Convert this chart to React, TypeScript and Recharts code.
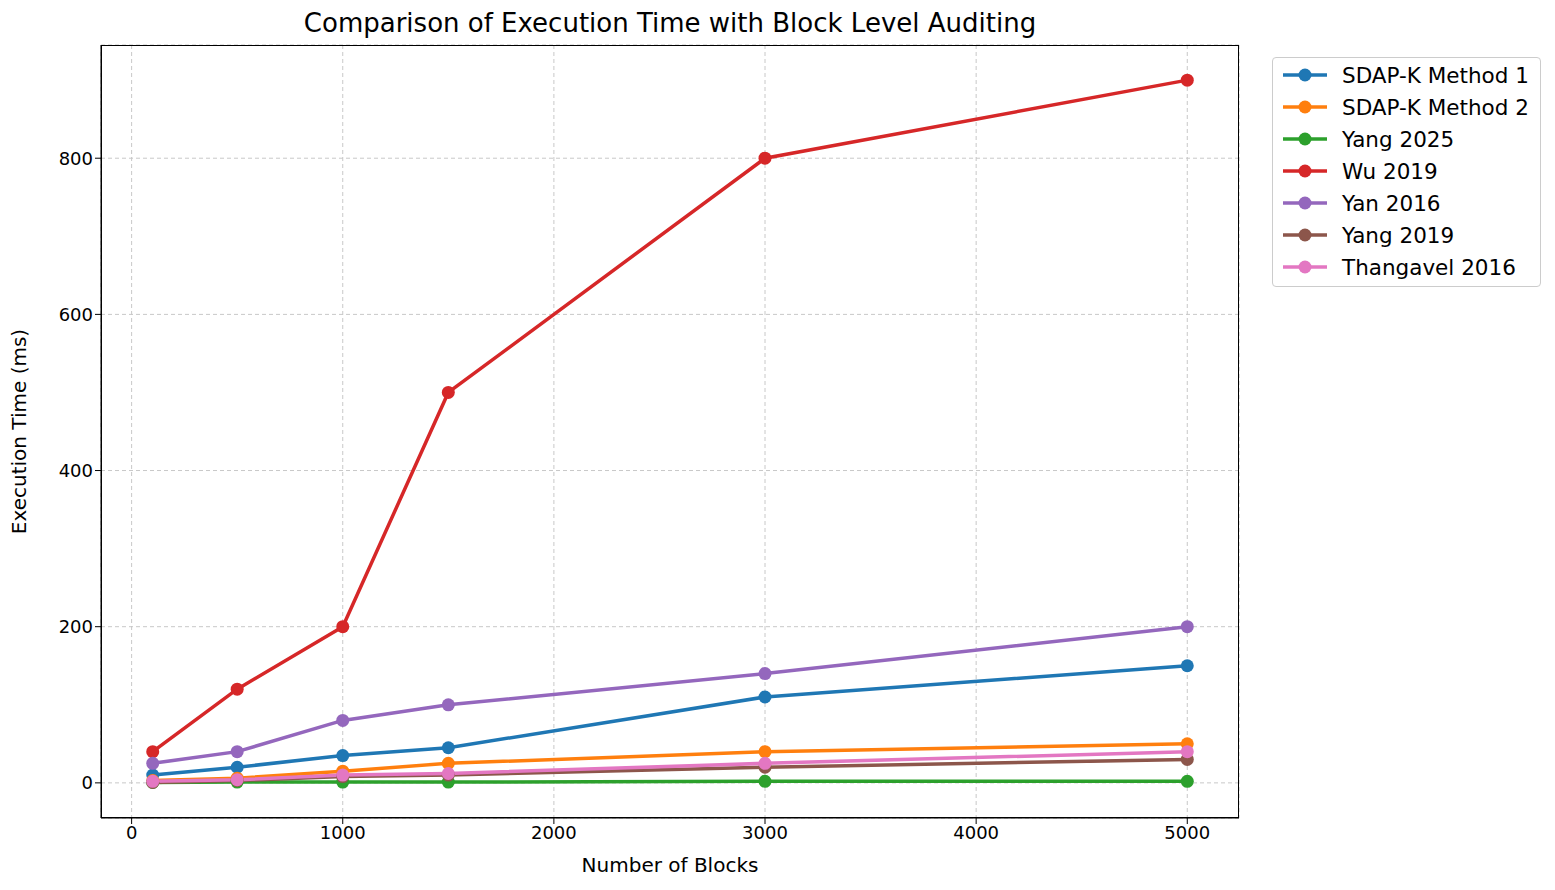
import React from "react";
import { LineChart, Line, XAxis, YAxis, CartesianGrid } from "recharts";

const blocks = [100, 500, 1000, 1500, 3000, 5000];
const sdap1 = [10, 20, 35, 45, 110, 150];
const sdap2 = [3, 6, 15, 25, 40, 50];
const yang2025 = [0.5, 1, 1, 1, 2, 2];
const wu2019 = [40, 120, 200, 500, 800, 900];
const yan2016 = [25, 40, 80, 100, 140, 200];
const yang2019 = [0.5, 3, 8, 10, 20, 30];
const thang2016 = [2, 4, 10, 12, 25, 40];
const xTicks = [0, 1000, 2000, 3000, 4000, 5000];
const yTicks = [0, 200, 400, 600, 800];

const series = [
  { key: "sdap1", name: "SDAP-K Method 1", color: "#1f77b4", vals: sdap1 },
  { key: "sdap2", name: "SDAP-K Method 2", color: "#ff7f0e", vals: sdap2 },
  { key: "yang2025", name: "Yang 2025", color: "#2ca02c", vals: yang2025 },
  { key: "wu2019", name: "Wu 2019", color: "#d62728", vals: wu2019 },
  { key: "yan2016", name: "Yan 2016", color: "#9467bd", vals: yan2016 },
  { key: "yang2019", name: "Yang 2019", color: "#8c564b", vals: yang2019 },
  { key: "thang2016", name: "Thangavel 2016", color: "#e377c2", vals: thang2016 },
];

const data = blocks.map((b, i) => {
  const row: any = { x: b };
  series.forEach((s) => (row[s.key] = s.vals[i]));
  return row;
});

const font = "DejaVu Sans, sans-serif";

export default function App() {
  return (
    <div style={{ position: "relative", width: 1547, height: 875, fontFamily: font }}>
      <div style={{ position: "absolute", left: 93, top: 0, width: 1138, textAlign: "center", fontSize: 26, lineHeight: "30px", color: "#000" }}>
        Comparison of Execution Time with Block Level Auditing
      </div>
      <LineChart width={1547} height={875} data={data} margin={{ top: 37, right: 316, left: 33, bottom: 35 }}>
        <CartesianGrid stroke="#c8c8c8" strokeDasharray="4 3" />
        <XAxis dataKey="x" type="number" domain={[-145, 5245]} ticks={xTicks} height={30}
          tick={{ fontSize: 18, fill: "#000", fontFamily: font }} tickLine={{ stroke: "#000" }} axisLine={{ stroke: "#000" }}
          label={{ value: "Number of Blocks", position: "insideBottom", offset: -24, fontSize: 20, fill: "#000", fontFamily: font }} allowDataOverflow />
        <YAxis type="number" domain={[-45, 945]} ticks={yTicks} width={60}
          tick={{ fontSize: 18, fill: "#000", fontFamily: font }} tickLine={{ stroke: "#000" }} axisLine={{ stroke: "#000" }}
          label={{ value: "Execution Time (ms)", angle: -90, position: "insideLeft", offset: -22, fontSize: 20, fill: "#000", fontFamily: font, style: { textAnchor: "middle" } }} allowDataOverflow />
        {series.map((s) => (
          <Line key={s.key} dataKey={s.key} name={s.name} stroke={s.color} strokeWidth={3.5}
            dot={{ r: 6.5, fill: s.color, stroke: s.color, strokeWidth: 0 }} isAnimationActive={false} />
        ))}
      </LineChart>
      <div style={{ position: "absolute", left: 93, top: 37, width: 1138, height: 773, border: "1px solid #000", boxSizing: "border-box", pointerEvents: "none" }} />
      <div style={{ position: "absolute", left: 1264, top: 49, width: 269, height: 230, border: "1px solid #ccc", borderRadius: 4, boxSizing: "border-box", background: "#fff" }}>
        {series.map((s, i) => (
          <div key={s.key} style={{ position: "absolute", left: 8, top: 3 + i * 32, height: 28, display: "flex", alignItems: "center" }}>
            <svg width={48} height={20}>
              <line x1={2} y1={10} x2={46} y2={10} stroke={s.color} strokeWidth={3.5} />
              <circle cx={24} cy={10} r={6.5} fill={s.color} />
            </svg>
            <span style={{ marginLeft: 13, fontSize: 21.5, color: "#000", whiteSpace: "nowrap" }}>{s.name}</span>
          </div>
        ))}
      </div>
    </div>
  );
}
